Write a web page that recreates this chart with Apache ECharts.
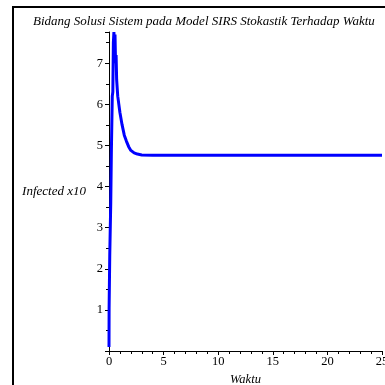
<!DOCTYPE html>
<html>
<head>
<meta charset="utf-8">
<style>html,body{margin:0;padding:0;background:#fff;}#c{width:385px;height:385px;}</style>
<script src="https://cdn.jsdelivr.net/npm/echarts@6/dist/echarts.min.js"></script>
</head>
<body>
<div id="c"></div>
<script>
// Data
var timeValues = [0, 0.01, 0.06, 0.07, 0.15, 0.16, 0.2, 0.22, 0.28, 0.3, 0.35, 0.4, 0.45, 0.5, 0.55, 0.6, 0.65, 0.7, 0.8, 0.9, 1.0, 1.2, 1.4, 1.6, 1.8, 2.0, 2.3, 2.6, 3.0, 4.0, 25];
var infectedValues = [0.1, 1.05, 1.05, 2.35, 2.35, 3.6, 3.6, 4.9, 4.9, 6.2, 6.3, 7.5, 7.76, 7.3, 7.7, 7.0, 7.2, 6.6, 6.2, 6.0, 5.8, 5.5, 5.25, 5.1, 4.97, 4.88, 4.82, 4.79, 4.77, 4.76, 4.76];
var xTicks = [0, 5, 10, 15, 20, 25];
var yTicks = [1, 2, 3, 4, 5, 6, 7];
var titleText = 'Bidang Solusi Sistem pada Model SIRS Stokastik Terhadap Waktu';
var xName = 'Waktu';
var yName = 'Infected x10';

var seriesData = timeValues.map(function (t, i) { return [t, infectedValues[i]]; });
var serif = 'Liberation Serif';
var chart = echarts.init(document.getElementById('c'), null, {renderer: 'canvas'});
chart.setOption({
  animation: false,
  backgroundColor: '#fff',
  title: {
    text: titleText, left: 28, top: 10,
    textStyle: {fontFamily: serif, fontStyle: 'italic', fontWeight: 'normal', fontSize: 13, color: '#000'}
  },
  grid: {left: 109, right: 3, top: 32, bottom: 34, containLabel: false, outerBoundsMode: 'none'},
  graphic: [{
    type: 'rect', shape: {x: 13, y: 7, width: 420, height: 420},
    style: {fill: 'none', stroke: '#000', lineWidth: 2}, silent: true
  }],
  xAxis: {
    type: 'value', min: xTicks[0], max: xTicks[xTicks.length - 1], interval: 5,
    name: xName, nameLocation: 'middle', nameGap: 18,
    nameTextStyle: {fontFamily: serif, fontStyle: 'italic', fontSize: 12.5, color: '#000'},
    axisLine: {show: true, lineStyle: {color: '#000', width: 1}},
    axisTick: {show: true, length: 4, inside: false, lineStyle: {color: '#000'}},
    minorTick: {show: true, splitNumber: 5, length: 3, lineStyle: {color: '#000'}},
    axisLabel: {fontFamily: serif, fontSize: 12.5, color: '#000', margin: 4},
    splitLine: {show: false}
  },
  yAxis: {
    type: 'value', min: 0, max: 7.76, interval: 1,
    name: yName, nameLocation: 'middle', nameRotate: 0, nameGap: 23,
    nameTextStyle: {fontFamily: serif, fontStyle: 'italic', fontSize: 13, color: '#000', align: 'right', verticalAlign: 'middle'},
    axisLine: {show: true, lineStyle: {color: '#000', width: 1}},
    axisTick: {show: true, length: 4, inside: false, lineStyle: {color: '#000'}},
    minorTick: {show: true, splitNumber: 2, length: 3, lineStyle: {color: '#000'}},
    axisLabel: {fontFamily: serif, fontSize: 12.5, color: '#000', margin: 6, showMinLabel: false, showMaxLabel: false,
      formatter: function (v) { return yTicks.indexOf(v) >= 0 ? String(v) : ''; }},
    splitLine: {show: false}
  },
  series: [{
    type: 'line', data: seriesData, showSymbol: false, symbol: 'none',
    lineStyle: {color: '#0000ff', width: 3}, clip: true
  }]
});
</script>
</body>
</html>
